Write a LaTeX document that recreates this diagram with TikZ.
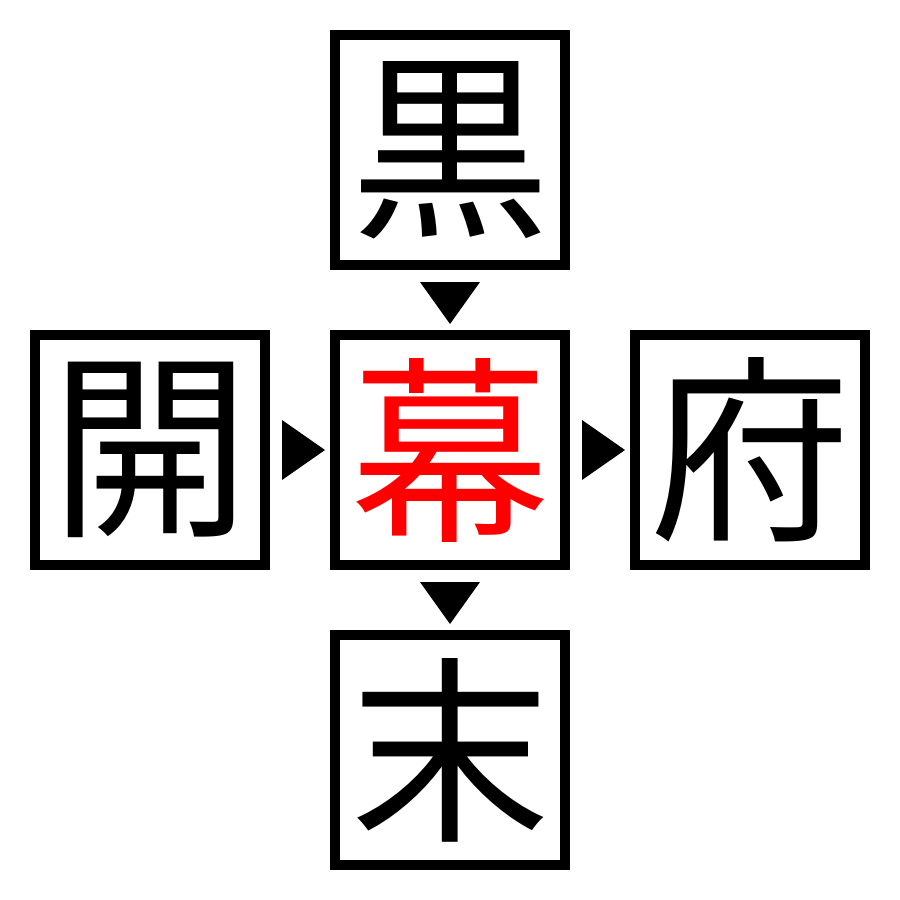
\documentclass[tikz,border=0pt]{standalone}
\usepackage{fontspec}
\newfontfamily\cjk{Noto Sans CJK JP}
\usetikzlibrary{calc}
\tikzset{
  kbox/.style={draw=black, line width=10pt, minimum size=230pt, inner sep=0pt, font=\cjk\fontsize{200pt}{200pt}\selectfont, text=black},
  tri/.style={fill=black, draw=none},
}
\begin{document}
\begin{tikzpicture}[x=1pt,y=-1pt]
\useasboundingbox (0,0) rectangle (900,900);
\node[kbox] (top) at (450,150) {黒};
\node[kbox, text=red] (mid) at (450,450) {幕};
\node[kbox] (left) at (150,450) {開};
\node[kbox] (right) at (750,450) {府};
\node[kbox] (bot) at (450,750) {末};
% down triangles
\fill[tri] ($(top.south)+(-30,12)$) -- ($(top.south)+(30,12)$) -- ($(mid.north)+(0,-6)$) -- cycle;
\fill[tri] ($(mid.south)+(-30,12)$) -- ($(mid.south)+(30,12)$) -- ($(bot.north)+(0,-6)$) -- cycle;
% right triangles
\fill[tri] ($(left.east)+(12,-30)$) -- ($(left.east)+(12,30)$) -- ($(mid.west)+(-5,0)$) -- cycle;
\fill[tri] ($(mid.east)+(12,-30)$) -- ($(mid.east)+(12,30)$) -- ($(right.west)+(-5,0)$) -- cycle;
\end{tikzpicture}
\end{document}
